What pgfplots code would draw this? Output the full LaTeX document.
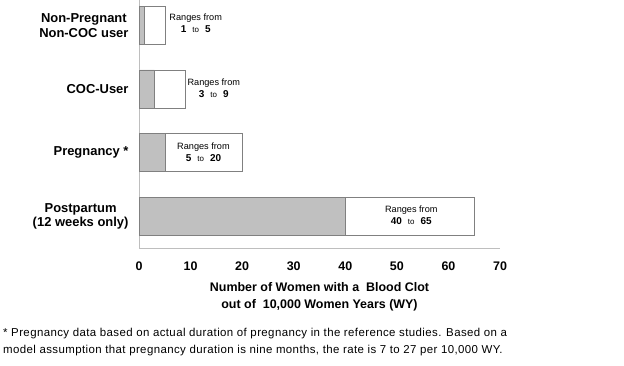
\documentclass[border=0pt]{standalone}
\usepackage{fontspec}
\setmainfont{Liberation Sans}
\usepackage{pgfplots}
\pgfplotsset{compat=1.18}
\definecolor{barfill}{RGB}{192,192,192}
\definecolor{barline}{RGB}{128,128,128}
\definecolor{axline}{RGB}{190,190,190}
\newcommand{\rng}[2]{{\fontsize{9.2}{13}\selectfont Ranges from}\\{\fontsize{10}{13}\selectfont\bfseries #1}\hspace{6bp}{\fontsize{8}{13}\selectfont to}\hspace{6bp}{\fontsize{10}{13}\selectfont\bfseries #2}}
\begin{document}
\begin{tikzpicture}[x=1bp,y=1bp]
\useasboundingbox (0,0) rectangle (624,365);
\begin{axis}[
  at={(139bp,117bp)}, anchor=south west,
  scale only axis, width=361bp, height=248bp,
  xmin=0, xmax=70, ymin=-0.5, ymax=3.4,
  xbar, bar width=0.6, bar shift=0pt,
  axis x line=bottom, axis y line=left,
  axis line style={draw=axline, -},
  xtick={0,10,...,70}, ytick={0,1,2,3},
  yticklabels={{Postpartum\\(12 weeks only)},{Pregnancy *},{COC-User},{Non-Pregnant\\Non-COC user}},
  major tick length=0pt,
  /pgf/number format/assume math mode=true,
  yticklabel style={align=center, font=\fontsize{13}{14.5}\selectfont\bfseries, xshift=-7bp},
  xticklabel style={font=\fontsize{12.5}{14}\selectfont\bfseries, yshift=-10bp},
  xlabel={Number of\ Women with a\ \ Blood Clot\\out of\ \ 10,000 Women Years (WY)},
  xlabel style={align=center, font=\fontsize{12.5}{17}\selectfont\bfseries, at={(axis description cs:0.5,0)}, anchor=north, yshift=-34bp, inner sep=0pt},
]
% upper end of the range (white), then lower end (grey) drawn over it
\addplot[fill=white, draw=barline] coordinates {(5,3) (9,2) (20,1) (65,0)};
\addplot[fill=barfill, draw=barline] coordinates {(1,3) (3,2) (5,1) (40,0)};
\node[align=center, inner sep=0pt] at (axis cs:11,3.03) {\rng{1}{5}};
\node[align=center, inner sep=0pt] at (axis cs:14.5,2.01) {\rng{3}{9}};
\node[align=center, inner sep=0pt] at (axis cs:12.5,1.01) {\rng{5}{20}};
\node[align=center, inner sep=0pt] at (axis cs:52.8,0.01) {\rng{40}{65}};
\end{axis}
\node[anchor=west, align=left, inner sep=0pt, font=\fontsize{11.5}{17}\selectfont\addfontfeature{LetterSpace=3.5}] at (3,23) {* Pregnancy data based on actual duration of pregnancy in the reference studies. Based on a\\model assumption that pregnancy duration is nine months, the rate is 7 to 27 per 10,000 WY.};
\end{tikzpicture}
\end{document}
